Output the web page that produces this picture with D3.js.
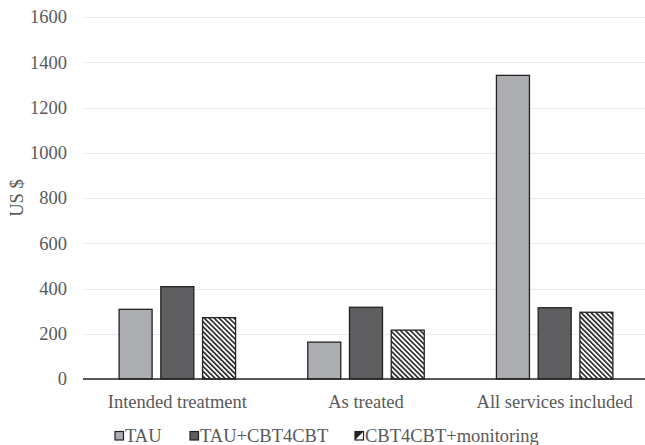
<!DOCTYPE html>
<html>
<head>
<meta charset="utf-8">
<script src="https://cdn.jsdelivr.net/npm/d3@7"></script>
<style>
  html, body { margin: 0; padding: 0; background: #fff; }
</style>
</head>
<body>
<svg id="chart" width="645" height="445"></svg>
<script>
const categories = ["Intended treatment", "As treated", "All services included"];
const seriesNames = ["TAU", "TAU+CBT4CBT", "CBT4CBT+monitoring"];
const tauValues = [308, 163, 1342];
const tauCbtValues = [408, 317, 315];
const monitoringValues = [271, 216, 295];
const yTicks = [0, 200, 400, 600, 800, 1000, 1200, 1400, 1600];

const seriesValues = [tauValues, tauCbtValues, monitoringValues];

const FONT = "\"Liberation Serif\", \"Times New Roman\", serif";
const TEXT_COLOR = "#595959";
const FONT_SIZE = 18.5;

const svg = d3.select("#chart");
const width = 645, height = 445;
const margin = { top: 17, right: -4, bottom: 66, left: 83 };

const x = d3.scaleBand()
  .domain(categories)
  .range([margin.left, width - margin.right])
  .paddingInner(0).paddingOuter(0);

const x1 = d3.scaleBand()
  .domain(seriesNames)
  .range([0, x.bandwidth()])
  .paddingInner(0.209)
  .paddingOuter(0.865);

const y = d3.scaleLinear().domain([0, 1600]).range([height - margin.bottom, margin.top]);

// hatch pattern for the monitoring series
const HATCH = 3.5;
const defs = svg.append("defs");
const pat = defs.append("pattern")
  .attr("id", "hatch")
  .attr("patternUnits", "userSpaceOnUse")
  .attr("width", HATCH).attr("height", HATCH)
  .attr("patternTransform", "rotate(-45)");
pat.append("rect").attr("width", HATCH).attr("height", HATCH).attr("fill", "#fff");
pat.append("rect").attr("x", 0).attr("y", 0).attr("width", 1.6).attr("height", HATCH).attr("fill", "#222");

const fills = ["#acadb1", "#5e5e61", "url(#hatch)"];

function styleText(sel) {
  return sel.style("font-family", FONT)
    .attr("font-size", FONT_SIZE)
    .attr("fill", TEXT_COLOR);
}

// gridlines
svg.append("g")
  .selectAll("line")
  .data(yTicks.filter(d => d > 0))
  .join("line")
  .attr("x1", margin.left).attr("x2", width)
  .attr("y1", d => Math.round(y(d)) + 0.5).attr("y2", d => Math.round(y(d)) + 0.5)
  .attr("stroke", "#ebebeb").attr("stroke-width", 1);

// y tick labels
svg.append("g")
  .selectAll("text")
  .data(yTicks)
  .join("text")
  .attr("x", 67)
  .attr("y", d => y(d))
  .attr("dy", "0.35em")
  .attr("text-anchor", "end")
  .call(styleText)
  .text(d => d);

// y axis title
svg.append("text")
  .attr("transform", `translate(23,198) rotate(-90)`)
  .attr("text-anchor", "middle")
  .call(styleText)
  .text("US $");

// bars
const groups = svg.append("g")
  .selectAll("g")
  .data(categories)
  .join("g")
  .attr("transform", d => `translate(${x(d)},0)`);

groups.selectAll("rect")
  .data((c, ci) => seriesNames.map((s, si) => ({ s, si, v: seriesValues[si][ci] })))
  .join("rect")
  .attr("x", d => x1(d.s))
  .attr("width", x1.bandwidth())
  .attr("y", d => y(d.v))
  .attr("height", d => y(0) - y(d.v))
  .attr("fill", d => fills[d.si])
  .attr("stroke", "#222")
  .attr("stroke-width", 1.3);

// baseline
svg.append("line")
  .attr("x1", margin.left).attr("x2", width)
  .attr("y1", y(0)).attr("y2", y(0))
  .attr("stroke", "#222").attr("stroke-width", 1.5);

// category labels
svg.append("g")
  .selectAll("text")
  .data(categories)
  .join("text")
  .attr("x", d => x(d) + x.bandwidth() / 2)
  .attr("y", 408)
  .attr("text-anchor", "middle")
  .call(styleText)
  .text(d => d);

// legend
const legendX = [115, 190, 355];
const legend = svg.append("g")
  .selectAll("g")
  .data(seriesNames)
  .join("g")
  .attr("transform", (d, i) => `translate(${legendX[i]},431.5)`);

legend.append("rect")
  .attr("width", 8.5).attr("height", 8.5)
  .attr("fill", (d, i) => i === 2 ? "#fff" : fills[i])
  .attr("stroke", "#222").attr("stroke-width", 1.2);
legend.filter((d, i) => i === 2).append("path")
  .attr("d", "M0,0 L8.5,0 L0,8.5 Z")
  .attr("fill", "#222");
legend.append("text")
  .attr("x", 10)
  .attr("y", 10.5)
  .call(styleText)
  .text(d => d);
</script>
</body>
</html>
